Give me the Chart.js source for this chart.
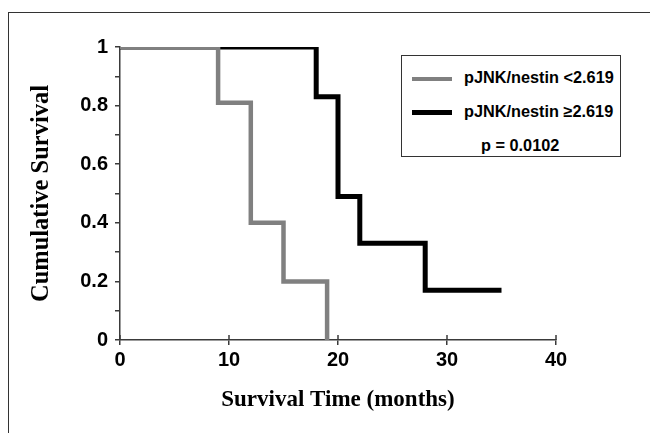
<!DOCTYPE html>
<html>
<head>
<meta charset="utf-8">
<script src="https://cdn.jsdelivr.net/npm/chart.js@4/dist/chart.umd.min.js"></script>
<style>
  html, body { margin: 0; padding: 0; background: #fff; overflow: hidden; }
  #wrap { position: relative; width: 650px; height: 433px; }
  #frame {
    position: absolute; left: 8px; top: 12px; width: 700px; height: 500px;
    border-left: 1px solid #333; border-top: 1px solid #333;
  }
  #legend {
    position: absolute; left: 401px; top: 55px; width: 218px; height: 100px;
    border: 1px solid #333; background: #fff;
    font: bold 16.3px "Liberation Sans", Arial, sans-serif; color: #000;
  }
  .row { position: absolute; left: 10px; height: 20px; line-height: 20px; white-space: nowrap; }
  .swatch { display: inline-block; width: 40px; vertical-align: middle; margin-right: 12px; }
  #pval { position: absolute; left: 79px; top: 79px; line-height: 20px; white-space: nowrap; }
</style>
</head>
<body>
<div id="wrap">
  <div id="frame"></div>
  <canvas id="km" width="650" height="433"></canvas>
  <div id="legend">
    <div class="row" style="top:11px"><span class="swatch" style="height:4px;background:#808080"></span>pJNK/nestin &lt;2.619</div>
    <div class="row" style="top:45px"><span class="swatch" style="height:5px;background:#000"></span>pJNK/nestin ≥2.619</div>
    <div id="pval">p = 0.0102</div>
  </div>
</div>
<script>
// Kaplan-Meier curves
const lowMonths = [0, 9, 12, 15, 19];
const lowSurvival = [1, 0.81, 0.40, 0.20, 0];
const highMonths = [0, 18, 20, 22, 28, 35];
const highSurvival = [1, 0.83, 0.49, 0.33, 0.17, 0.17];

const xTicks = [0, 10, 20, 30, 40];
const yTicks = [0, 0.2, 0.4, 0.6, 0.8, 1];

function points(xs, ys) {
  return xs.map((x, i) => ({ x: x, y: ys[i] }));
}

const axisColor = '#3a3a3a';
const tickFont = { family: '"Liberation Sans", Arial, sans-serif', size: 20, weight: 'bold' };
const serif = '"Liberation Serif", "Times New Roman", serif';

// tick marks crossing the x axis (inner half)
const innerTicks = {
  id: 'innerTicks',
  afterDraw(chart) {
    const ctx = chart.ctx;
    const x = chart.scales.x;
    ctx.save();
    ctx.strokeStyle = axisColor;
    ctx.lineWidth = 1.5;
    xTicks.forEach(v => {
      const px = x.getPixelForValue(v);
      ctx.beginPath();
      ctx.moveTo(px, x.top);
      ctx.lineTo(px, x.top - 5);
      ctx.stroke();
    });
    ctx.restore();
  }
};

new Chart(document.getElementById('km'), {
  type: 'line',
  data: {
    datasets: [
      {
        label: 'pJNK/nestin <2.619',
        data: points(lowMonths, lowSurvival),
        borderColor: '#808080',
        borderWidth: 4.5,
        stepped: 'before',
        pointRadius: 0,
        fill: false
      },
      {
        label: 'pJNK/nestin ≥2.619',
        data: points(highMonths, highSurvival),
        borderColor: '#000000',
        borderWidth: 5,
        stepped: 'before',
        pointRadius: 0,
        fill: false
      }
    ]
  },
  options: {
    responsive: false,
    animation: false,
    layout: { padding: { top: 47, right: 94, left: 0, bottom: 0 } },
    plugins: {
      legend: { display: false },
      tooltip: { enabled: false }
    },
    scales: {
      x: {
        type: 'linear',
        min: 0,
        max: 40,
        afterFit: s => { s.height = 93; },
        afterBuildTicks: s => { s.ticks = xTicks.map(v => ({ value: v })); },
        border: { color: axisColor, width: 1.5 },
        grid: { drawOnChartArea: false, color: axisColor, lineWidth: 1.5, tickLength: 5 },
        ticks: { color: '#000', font: tickFont, padding: 3, maxRotation: 0 },
        title: {
          display: true,
          text: 'Survival Time (months)',
          color: '#000',
          font: { family: serif, size: 23, weight: 'bold' },
          padding: { top: 0, bottom: 19 }
        }
      },
      y: {
        min: 0,
        max: 1,
        afterFit: s => { s.width = 120; },
        ticks: {
          stepSize: 0.1,
          color: '#000',
          font: tickFont,
          padding: 7,
          callback: v => {
            const t = Math.round(v * 10);
            return yTicks.some(y => Math.round(y * 10) === t) ? String(t / 10) : '';
          }
        },
        border: { color: axisColor, width: 1.5 },
        grid: { drawOnChartArea: false, color: axisColor, lineWidth: 1.5, tickLength: 5 },
        title: {
          display: true,
          text: 'Cumulative Survival',
          color: '#000',
          font: { family: serif, size: 24.5, weight: 'bold' },
          padding: { top: 27, bottom: 0 }
        }
      }
    }
  },
  plugins: [innerTicks]
});
</script>
</body>
</html>
